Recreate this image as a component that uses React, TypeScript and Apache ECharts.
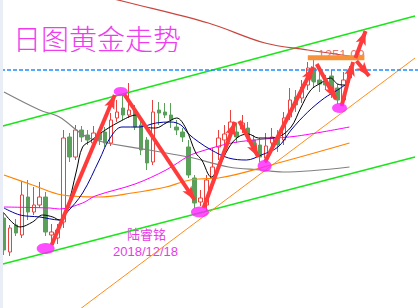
import React, { useEffect, useRef } from "react";
import * as echarts from "echarts";

// Daily gold candles: [open, close, low, high]
const candles: number[][] = [
  [1171, 1155, 1152.5, 1174],
  [1154, 1166, 1152, 1167.5],
  [1167.5, 1163.5, 1162, 1170.5],
  [1162.5, 1182.5, 1161, 1189.5],
  [1181.5, 1174, 1170, 1190],
  [1174, 1177.5, 1172.5, 1186.5],
  [1177.5, 1181.5, 1176, 1189],
  [1181.5, 1164, 1162, 1184],
  [1162.5, 1164, 1158.5, 1168],
  [1161, 1165, 1158, 1168],
  [1169, 1211, 1166, 1215],
  [1211.5, 1201.5, 1199, 1213.5],
  [1201.5, 1215, 1200, 1217.5],
  [1215, 1211.5, 1209, 1217],
  [1212.5, 1210, 1207.5, 1215],
  [1208.5, 1213.5, 1206.5, 1217],
  [1213.5, 1210, 1207.5, 1216],
  [1214, 1208.5, 1206.5, 1216.5],
  [1208.5, 1220, 1207, 1223.5],
  [1221, 1224, 1219, 1230],
  [1226, 1222.5, 1220, 1232.5],
  [1222.5, 1225, 1221, 1238.5],
  [1225, 1216.5, 1215, 1227.5],
  [1217.5, 1205, 1202.5, 1220],
  [1210, 1198.5, 1195, 1211.5],
  [1199, 1224, 1197.5, 1230],
  [1225, 1223.5, 1217.5, 1229],
  [1224, 1222.5, 1221, 1228.5],
  [1222.5, 1220, 1216, 1228.5],
  [1216.5, 1215, 1212.5, 1220],
  [1214, 1211.5, 1209, 1216],
  [1206.5, 1192.5, 1191, 1210],
  [1191, 1178.5, 1176, 1192.5],
  [1179, 1181, 1177, 1185],
  [1177.5, 1190, 1174, 1192.5],
  [1191, 1196.5, 1189, 1206],
  [1206.5, 1211, 1200, 1215],
  [1210, 1213, 1206, 1217.5],
  [1213.5, 1219, 1212, 1225],
  [1214, 1211.5, 1208.5, 1218.5],
  [1215.5, 1218.5, 1213.5, 1222.5],
  [1216, 1211, 1209, 1219],
  [1210, 1206, 1204, 1212.5],
  [1207.5, 1201.5, 1199, 1211],
  [1201, 1207, 1198.5, 1213.5],
  [1208.5, 1211.5, 1207, 1216],
  [1211, 1207.5, 1204, 1215],
  [1210, 1221, 1207.5, 1224],
  [1221.5, 1230, 1220, 1236],
  [1231.5, 1227.5, 1224, 1235],
  [1231, 1236.5, 1228.5, 1240],
  [1237.5, 1246, 1235, 1249],
  [1246, 1239, 1236, 1251.09],
  [1240, 1238, 1234, 1244],
  [1239, 1237.5, 1235, 1242.5],
  [1242, 1235, 1231, 1245],
  [1236, 1230, 1228, 1238],
  [1230, 1240, 1228, 1244],
  [1241, 1245, 1239, 1247],
];

// Slots on the time axis (traded days plus empty room on the right)
const SLOT_COUNT = 70;

// Moving averages as [day index, price]
const ma5 = [
  [0, 1173.5], [1.5, 1168.5], [2.7, 1166.5], [4.8, 1169], [6.5, 1172.5], [8.2, 1171.5],
  [9.3, 1170], [10.5, 1175], [12.2, 1195], [13.2, 1206.5], [14.8, 1210], [16, 1213],
  [19.3, 1219], [22.2, 1222.5], [23.8, 1216.5], [25.5, 1216], [27.2, 1218.5], [29, 1221],
  [30.5, 1216], [32.2, 1203.5], [33.2, 1200], [34.8, 1191.5], [36, 1196], [37.7, 1206],
  [39.3, 1211.5], [41, 1213], [42.7, 1211], [44.3, 1211], [46, 1211.5], [48.2, 1216.5],
  [49.8, 1226], [51.5, 1235], [53.2, 1238.5], [54.8, 1241], [56, 1238], [57.2, 1237.5], [58, 1239],
];
const ma10 = [
  [0, 1176], [2.7, 1172.5], [6, 1171.5], [9.3, 1170], [10.5, 1173.5], [13.2, 1183.5],
  [16, 1200], [17.7, 1210.5], [19.8, 1216.5], [22.7, 1216.5], [25.5, 1218.5], [28, 1219],
  [29.7, 1217.5], [31, 1213], [32.7, 1209], [34.8, 1205], [37.7, 1201], [40.7, 1200],
  [43.2, 1202.5], [46, 1206.5], [48.2, 1215], [51, 1224], [53.8, 1231], [56, 1235], [58, 1239],
];
const ma20 = [
  [0, 1176.5], [7.7, 1176], [9.3, 1175.5], [13.2, 1178.5], [15.3, 1182], [22, 1188],
  [27.2, 1195], [31, 1202], [32.7, 1204], [38.2, 1208.5], [43.8, 1210.5], [49.3, 1212], [58, 1216.5],
];
const ma40 = [
  [0, 1192.5], [4.8, 1187.5], [9.8, 1182.5], [16, 1181.5], [21.5, 1183.5], [27.2, 1186.5],
  [30.5, 1189.5], [32.7, 1190.5], [36, 1191], [46, 1198.5], [58, 1208.5],
];
const ma60 = [
  [0, 1234], [6, 1225], [9.3, 1221.5], [14.3, 1211], [24.3, 1205], [31, 1201.5],
  [37.7, 1196.5], [43.2, 1195], [46.8, 1194], [58, 1196.5],
];
const ma120 = [
  [15, 1283], [20.5, 1279], [34.3, 1268.5], [43.8, 1258.5], [51, 1255], [58, 1252],
];

// Trend channel and support line, [day index, price]
const upperChannel = [[-0.5, 1216.75], [69, 1272]];
const lowerChannel = [[-0.5, 1147.75], [69, 1201.5]];
const supportLine = [[12, 1123.75], [69, 1251]];

// Swing pivots and the moves between them
const pivotPoints = [[7, 1155.75], [19.6, 1234.25], [32.9, 1174], [43.75, 1197], [56.33, 1226]];
const swingArrows = [
  [[8, 1157.5], [18.6, 1232.5]],
  [[20.17, 1233], [32, 1180]],
  [[33.5, 1176], [38.8, 1219]],
  [[39.5, 1219.5], [42.7, 1201.5]],
  [[43.83, 1199], [51.9, 1246.5]],
  [[52.5, 1248], [55.7, 1230.5]],
  [[56.67, 1227], [58.6, 1249]],
  [[59, 1251], [60.7, 1264.5]],
  [[59.17, 1249.5], [61.3, 1242]],
];

const TITLE = "日图黄金走势";
const AUTHOR = "陆睿铭";
const DATE = "2018/12/18";

export default function App() {
  const ref = useRef<HTMLDivElement>(null);

  useEffect(() => {
    if (!ref.current) return;
    const chart = echarts.init(ref.current, null, { renderer: "svg" });

    const slots = Array.from({ length: SLOT_COUNT }, (_, i) => String(i));
    const lastClose = candles[candles.length - 1][1];
    let topIndex = 0;
    candles.forEach((c, i) => {
      if (c[3] > candles[topIndex][3]) topIndex = i;
    });
    const topHigh = candles[topIndex][3];

    const pivotSizes = [[18, 11], [14, 9], [18, 11], [14, 12], [15, 10]];

    const maLine = (data: number[][], color: string, width: number) => ({
      type: "line",
      xAxisIndex: 1,
      yAxisIndex: 0,
      data,
      smooth: 0.35,
      symbol: "none",
      silent: true,
      z: 3,
      lineStyle: { color, width },
    });

    const straight = (data: number[][], color: string, width: number, z = 3, type: any = "solid") => ({
      type: "line",
      xAxisIndex: 1,
      yAxisIndex: 0,
      data,
      symbol: "none",
      silent: true,
      z,
      lineStyle: { color, width, type },
    });

    const option: any = {
      animation: false,
      backgroundColor: "#ffffff",
      grid: { left: 1, right: -3, top: 0, bottom: 0, containLabel: false },
      xAxis: [
        { type: "category", data: slots, show: false, boundaryGap: true },
        { type: "value", min: -0.5, max: SLOT_COUNT - 0.5, show: false },
      ],
      yAxis: [{ type: "value", min: 1126, max: 1280, show: false, scale: true }],
      graphic: [
        {
          type: "text",
          left: 13,
          top: 24,
          style: { text: TITLE, font: '300 28px "Noto Sans CJK SC"', fill: "#ee3cee" },
        },
        {
          type: "text",
          left: 127,
          top: 227,
          style: { text: AUTHOR, font: '13px "Noto Sans CJK SC"', fill: "#e53de5" },
        },
        {
          type: "text",
          left: 113,
          top: 245,
          style: { text: DATE, font: '13px "Liberation Sans"', fill: "#e53de5" },
        },
      ],
      series: [
        straight(upperChannel, "#19e619", 1.5),
        straight(lowerChannel, "#19e619", 1.5),
        straight(supportLine, "#ff8c1a", 1),
        {
          type: "candlestick",
          xAxisIndex: 0,
          yAxisIndex: 0,
          data: candles,
          barWidth: 4,
          silent: true,
          z: 2,
          itemStyle: {
            color: "#ffffff",
            color0: "#5aa05a",
            borderColor: "#e8433f",
            borderColor0: "#5aa05a",
            borderWidth: 1,
          },
        },
        maLine(ma120, "#c9443c", 1.2),
        maLine(ma60, "#808080", 1.2),
        maLine(ma40, "#ff8400", 1.2),
        maLine(ma20, "#ff00ff", 1),
        maLine(ma10, "#0000a0", 1),
        maLine(ma5, "#000000", 1),
        straight(
          [[-0.5, lastClose], [SLOT_COUNT - 0.5, lastClose]],
          "#1e8fff",
          1.5,
          3,
          [4, 2]
        ),
        {
          type: "scatter",
          xAxisIndex: 1,
          yAxisIndex: 0,
          data: [[56.6, topHigh]],
          symbolSize: 0,
          silent: true,
          z: 3,
          label: {
            show: true,
            position: "inside",
            offset: [0, -3],
            formatter: () => topHigh.toFixed(2),
            color: "#d9534f",
            fontSize: 13,
            fontFamily: "Liberation Sans",
          },
        },
        straight([[51, topHigh], [60.5, topHigh]], "#f7923a", 5, 4),
        {
          type: "scatter",
          xAxisIndex: 1,
          yAxisIndex: 0,
          silent: true,
          z: 10,
          data: pivotPoints.map((p, i) => ({ value: p, symbolSize: pivotSizes[i] })),
          symbol: "circle",
          itemStyle: { color: "#ff22ff" },
          markLine: {
            silent: true,
            z: 6,
            animation: false,
            symbol: ["none", "arrow"],
            label: { show: false },
            emphasis: { disabled: true },
            lineStyle: { color: "#ff3a3a", width: 4, type: "solid" },
            itemStyle: { color: "#ff3a3a" },
            data: swingArrows.map(([a, b]) => [
              { coord: a, symbol: "none" },
              { coord: b, symbol: "arrow", symbolSize: [8, 14] },
            ]),
          },
        },
      ],
    };

    chart.setOption(option);
    return () => chart.dispose();
  }, []);

  return (
    <div style={{ position: "fixed", left: 0, top: 0, width: 418, height: 308, background: "#ffffff", overflow: "hidden" }}>
      <div ref={ref} style={{ position: "absolute", left: 0, top: 0, width: 418, height: 308 }} />
      <div style={{ position: "absolute", left: 0, top: 0, width: 3, height: 308, background: "#e9eef6" }} />
    </div>
  );
}
